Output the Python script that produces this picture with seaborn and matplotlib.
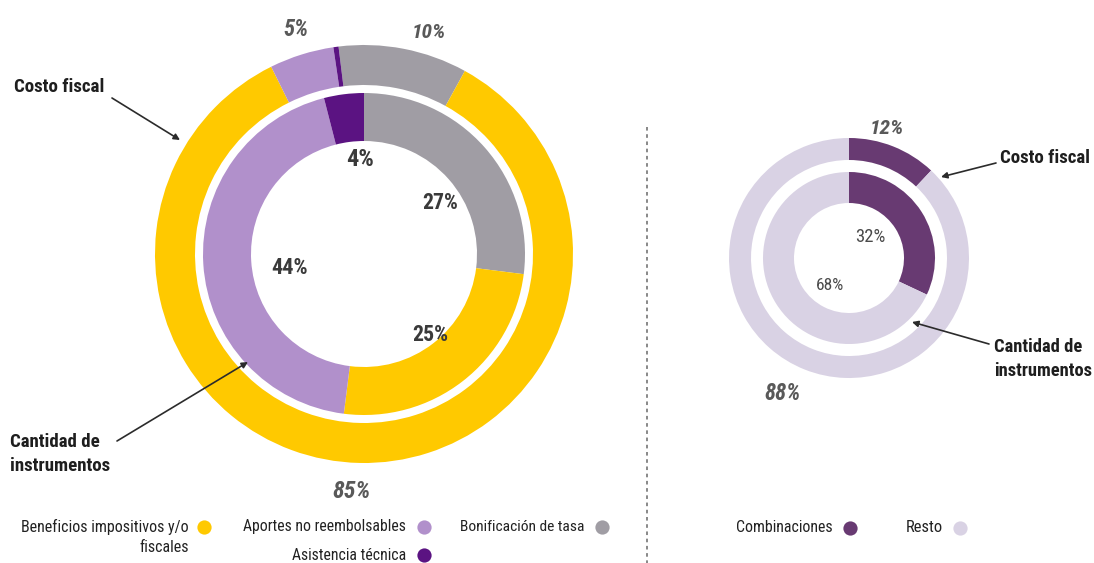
import matplotlib
matplotlib.use("Agg")
import matplotlib.pyplot as plt
from matplotlib import font_manager
import seaborn as sns

# ---- data ---------------------------------------------------------------
# Left chart: instrument types (clockwise from the top of each ring)
tipos = ["Bonificación de tasa", "Beneficios impositivos y/o fiscales",
         "Aportes no reembolsables", "Asistencia técnica"]
costo_fiscal_tipos = [10, 85, 5, 0.4]          # outer ring, %
cantidad_tipos = [27, 25, 44, 4]               # inner ring, %

# Right chart: combinations vs. the rest
grupos = ["Combinaciones", "Resto"]
costo_fiscal_comb = [12, 88]                   # outer ring, %
cantidad_comb = [32, 68]                       # inner ring, %

legend_left = ["Beneficios impositivos y/o\nfiscales", "Aportes no reembolsables",
               "Bonificación de tasa", "Asistencia técnica"]
legend_right = ["Combinaciones", "Resto"]

# ---- style --------------------------------------------------------------
sns.set_theme(style="white")
entries = font_manager.fontManager.ttflist
names = {f.name for f in entries}

# prefer a condensed sans; fall back to the Arial-metric Liberation Sans
stretch = "normal"
if "Liberation Sans Narrow" in names:
    family = "Liberation Sans Narrow"
elif "Roboto Condensed" in names:
    family = "Roboto Condensed"
elif any(f.name == "DejaVu Sans" and "condensed" in str(f.stretch) for f in entries):
    family, stretch = "DejaVu Sans", "condensed"
elif "Liberation Sans" in names:
    family = "Liberation Sans"
else:
    family = "DejaVu Sans"
plt.rcParams["font.family"] = [family, "DejaVu Sans"]
plt.rcParams["font.stretch"] = stretch

col_tipos = dict(zip(tipos, sns.color_palette(["#A09DA4", "#FFC900", "#B190CB", "#5B1382"])))
col_comb = dict(zip(grupos, sns.color_palette(["#683A72", "#D9D2E4"])))

W, H = 1094, 563
fig = plt.figure(figsize=(W / 100, H / 100), dpi=100)
ax = fig.add_axes([0, 0, 1, 1])
renderer = fig.canvas.get_renderer()


def Y(y):
    """Convert a top-down pixel row to the axes' bottom-up coordinate."""
    return H - y


def fitted_text(x, y, s, width, **kw):
    """Place text and scale its font so the widest line spans `width` px."""
    t = ax.text(x, Y(y), s, fontsize=10, fontstretch=stretch, **kw)
    w = t.get_window_extent(renderer).width
    t.set_fontsize(10 * width / w)
    return t


def ring(values, colors, center, radius, width, start):
    ax.pie(values, colors=colors, center=center, radius=radius,
           startangle=start, counterclock=False, frame=True,
           wedgeprops=dict(width=width, linewidth=0))


# ---- left doughnut ------------------------------------------------------
cl = (364, Y(254))
ring(costo_fiscal_tipos, [col_tipos[t] for t in tipos], cl, 209, 40, 97)
ring(cantidad_tipos, [col_tipos[t] for t in tipos], cl, 161, 48, 90)

# ---- right doughnut -----------------------------------------------------
cr = (849, Y(258))
ring(costo_fiscal_comb, [col_comb[g] for g in grupos], cr, 120, 22, 90)
ring(cantidad_comb, [col_comb[g] for g in grupos], cr, 86, 31, 90)

ax.set_xlim(0, W)
ax.set_ylim(0, H)
ax.set_aspect("equal")
ax.axis("off")

# ---- percentage labels --------------------------------------------------
outer_style = dict(fontweight="bold", fontstyle="italic", color="#595959",
                   ha="center", va="center")
inner_style = dict(fontweight="bold", color="#3A3A3A", ha="center", va="center")

# (index, x, y, width)
for i, x, y, w in [(0, 429, 32, 34), (1, 352, 492, 38), (2, 296, 30, 25)]:
    fitted_text(x, y, f"{costo_fiscal_tipos[i]:.0f}%", w, **outer_style)

for v, (x, y, w) in zip(cantidad_tipos, [(440, 203, 36), (430, 335, 36),
                                         (290, 268, 37), (360, 160, 28)]):
    fitted_text(x, y, f"{v:.0f}%", w, **inner_style)

for v, (x, y, w) in zip(costo_fiscal_comb, [(887, 128, 34), (783, 393, 36)]):
    fitted_text(x, y, f"{v:.0f}%", w, **outer_style)
for v, (x, y, w) in zip(cantidad_comb, [(870, 237, 30), (830, 285, 28)]):
    fitted_text(x, y, f"{v:.0f}%", w, color="#4A4A4A", ha="center", va="center")

# ---- ring annotations ---------------------------------------------------
arrow = dict(arrowstyle="-|>", color="#2B2B2B", lw=1.2, mutation_scale=9,
             shrinkA=0, shrinkB=0)
note = dict(fontweight="bold", color="#1E1E1E", ha="left", va="center")

fitted_text(14, 87, "Costo fiscal", 91, **note)
ax.annotate("", xy=(180, Y(140)), xytext=(112, Y(98)), arrowprops=arrow)

fitted_text(10, 454, "Cantidad de\ninstrumentos", 100, linespacing=1.45, **note)
ax.annotate("", xy=(248, Y(362)), xytext=(117, Y(441)), arrowprops=arrow)

fitted_text(1000, 158, "Costo fiscal", 90, **note)
ax.annotate("", xy=(941, Y(177)), xytext=(996, Y(163)), arrowprops=arrow)

fitted_text(994, 359, "Cantidad de\ninstrumentos", 98, linespacing=1.45, **note)
ax.annotate("", xy=(912, Y(322)), xytext=(989, Y(344)), arrowprops=arrow)

# ---- separator ----------------------------------------------------------
ax.plot([647, 647], [Y(127), Y(563)], color="#7F7F7F", lw=1.3,
        linestyle=(0, (2, 2)))

# ---- legends ------------------------------------------------------------
leg_text = dict(color="#222222", ha="right", va="center")
# (label, colour, text right edge, text row, text width, marker x, marker y)
left_items = [
    (legend_left[0], col_tipos[tipos[1]], 189, 527, 166, 204, 527),
    (legend_left[1], col_tipos[tipos[2]], 406, 527, 162, 424, 527),
    (legend_left[2], col_tipos[tipos[0]], 584, 527, 124, 602, 527),
    (legend_left[3], col_tipos[tipos[3]], 406, 555, 113, 424, 555),
]
right_items = [
    (legend_right[0], col_comb[grupos[0]], 833, 528, 97, 850, 528),
    (legend_right[1], col_comb[grupos[1]], 943, 528, 37, 960, 528),
]
for label, color, tx, ty, tw, mx, my in left_items + right_items:
    lines = label.split("\n")
    first = fitted_text(tx, ty, lines[0], tw, **leg_text)
    for k, extra in enumerate(lines[1:], start=1):
        ax.text(tx, Y(ty + 21 * k), extra, fontsize=first.get_fontsize(),
                fontstretch=stretch, **leg_text)
    ax.scatter([mx], [Y(my)], s=105, color=color, linewidths=0, zorder=3)

fig.savefig("out.png", dpi=100, facecolor="white")
